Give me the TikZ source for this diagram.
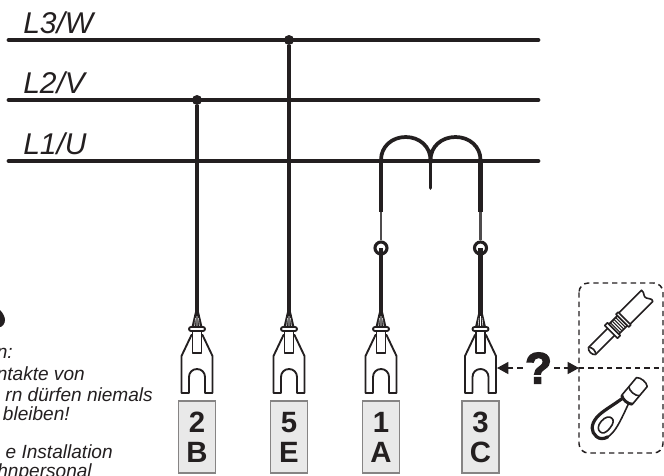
\documentclass[tikz,border=0pt]{standalone}
\usepackage{fontspec}
\setmainfont{Liberation Sans}
\newfontfamily\qfont[FakeBold=3]{Liberation Sans Bold}
\usetikzlibrary{arrows.meta}
\definecolor{ink}{HTML}{231F20}
\tikzset{
  x=0.75pt,y=-0.75pt,
  busline/.style={draw=ink,line width=3.6pt,line cap=round},
  thickwire/.style={draw=ink,line width=3.4pt},
  thinwire/.style={draw=ink!80,line width=1.6pt},
  coilwire/.style={draw=ink,line width=2.8pt,line cap=round},
  joint/.style={circle,fill=ink,inner sep=0pt,minimum size=7.5pt},
  eyelet/.style={circle,draw=ink,fill=white,line width=2.3pt,inner sep=0pt,minimum size=9pt},
  phase/.style={font=\itshape\fontsize{22.5}{22.5}\selectfont,text=ink,anchor=base west,inner sep=0pt},
  note/.style={font=\itshape\fontsize{14.3}{15}\selectfont,text=ink,anchor=base east,inner sep=0pt},
  termbox/.style={draw=ink!55,fill=ink!10,line width=1.1pt,minimum width=27.5pt,minimum height=54pt,inner sep=0pt,
    align=center,font=\bfseries\fontsize{22}{22.5}\selectfont,text=ink},
  forkline/.style={draw=ink,line width=1.4pt,line join=round},
  dashedge/.style={draw=ink,line width=1.1pt,dash pattern=on 4pt off 3pt},
  dasharrow/.style={dashedge,-{Triangle[length=8.5pt,width=9pt,fill=ink]}},
  lugline/.style={draw=ink,line width=1.2pt,line join=round,fill=white},
  fork/.pic={
    \fill[ink] (-2,312) -- (-5.5,327) -- (5.5,327) -- (2,312) -- cycle;
    \draw[white,line width=.4pt] (-1.5,318)--(-2.5,327) (0,316)--(0,327) (1.5,318)--(2.5,327);
    \draw[forkline,fill=white] (-15.5,393) -- (-15.5,356) -- (-5.5,335) -- (5.5,335) -- (15.5,356) -- (15.5,393)
       -- (8,393) -- (8,377) .. controls (8,372.5) and (4.5,369) .. (0,369) .. controls (-4.5,369) and (-8,372.5) .. (-8,377)
       -- (-8,393) -- cycle;
    \draw[forkline,fill=white] (-4.5,330) -- (-4.5,353) -- (4.5,353) -- (4.5,330);
    \draw[forkline,fill=white,rounded corners=1.5pt] (-8,327) rectangle (8,331);
  }
}
\begin{document}
\begin{tikzpicture}
\useasboundingbox (0,0) rectangle (664,475);
% bus bars
\coordinate (w0) at (9,40);  \coordinate (w1) at (538,40);
\coordinate (v0) at (9,100); \coordinate (v1) at (538,100);
\coordinate (u0) at (9,161); \coordinate (u1) at (538,161);
\node[phase] (lw) at (23,33) {L3/W};
\node[phase] (lv) at (23,93) {L2/V};
\node[phase] (lu) at (23,154) {L1/U};
\draw[busline] (w0) -- (w1);
\draw[busline] (v0) -- (v1);
\draw[busline] (u0) -- (u1);
% terminals
\node[termbox] (t2) at (197,437) {2\\B};
\node[termbox] (t5) at (289,437) {5\\E};
\node[termbox] (t1) at (381,437) {1\\A};
\node[termbox] (t3) at (480.5,437) {3\\C};
% forks
\pic at (197,0) {fork};
\pic at (289,0) {fork};
\pic at (381,0) {fork};
\pic at (480.5,0) {fork};
\coordinate (f2) at (197,316);
\coordinate (f5) at (289,316);
\coordinate (f1) at (381,316);
\coordinate (f3) at (480.5,316);
% wires to the bars
\node[joint] (j2) at (197,100) {};
\node[joint] (j5) at (289,40) {};
\draw[thickwire] (j2) -- (f2);
\draw[thickwire] (j5) -- (f5);
% transformer coil
\coordinate (c1) at (381,160);
\coordinate (cm) at (430.5,160);
\coordinate (c3) at (480.5,160);
\coordinate (cs) at (430.5,188);
\draw[coilwire] (c1) .. controls (381,146.5) and (392,137) .. (405.7,137)
   .. controls (419.4,137) and (430.5,146.5) .. (cm)
   .. controls (430.5,146.5) and (441.6,137) .. (455.5,137)
   .. controls (469.4,137) and (480.5,146.5) .. (c3);
\draw[coilwire,line cap=round] (cm) -- (cs);
\coordinate (k1) at (381,212);
\coordinate (k3) at (480.5,212);
\node[eyelet] (e1) at (381,248) {};
\node[eyelet] (e3) at (480.5,248) {};
\draw[thickwire] (c1) -- (k1);
\draw[thickwire] (c3) -- (k3);
\draw[thinwire] (k1) -- (e1.north);
\draw[thinwire] (k3) -- (e3.north);
\draw[thickwire] (e1.center) -- (f1);
\draw[thickwire] (e3.center) -- (f3);
% question mark and connector
\node[inner sep=0pt,font=\qfont\fontsize{33}{33}\selectfont,text=ink] (q) at (538.5,368) {?};
\coordinate (forkside) at (497,368);
\coordinate (boxside) at (579,368);
\coordinate (boxright) at (663,368);
\draw[dasharrow] (q.west) ++(-2,0) -- (forkside);
\draw[dasharrow] (q.east) ++(2,0) -- (boxside);
\draw[dashedge,rounded corners=7pt] (579,283) rectangle (663,453);
\draw[dashedge] (boxside) -- (boxright);
% ferrule
\begin{scope}[shift={(592,351)},x={(.53pt,.53pt)},y={(.53pt,-.53pt)}]
  \draw[lugline] (45,-8) -- (78,-8) .. controls (79,-4) and (74,-2) .. (76,1) .. controls (77,4) and (80,5) .. (78,8) -- (45,8) -- cycle;
  \draw[lugline] (0,-5) -- (28,-5) -- (28,5) -- (0,5) .. controls (-3,3) and (-3,-3) .. (0,-5) -- cycle;
  \draw[lugline] (0,-5) .. controls (3,-3) and (3,3) .. (0,5);
  \draw[lugline] (27,-9) -- (31,-9) -- (31,9) -- (27,9) -- cycle;
  \draw[lugline] (31,-7) -- (43,-7) -- (43,7) -- (31,7) -- cycle;
  \draw[draw=ink,line width=.8pt] (33,-7)--(33,7) (35.5,-7)--(35.5,7) (38,-7)--(38,7) (40.5,-7)--(40.5,7);
  \draw[lugline] (43,-9) -- (46,-9) -- (46,9) -- (43,9) -- cycle;
\end{scope}
% ring lug
\begin{scope}[shift={(606,425)},x={(.48pt,.575pt)},y={(.575pt,-.48pt)}]
  \draw[lugline] (33,-4) .. controls (20,-7) and (8,-12) .. (0,-12) .. controls (-10,-12) and (-15,-7) .. (-15,0)
     .. controls (-15,7) and (-10,10) .. (0,10) .. controls (8,10) and (22,6) .. (33,3) -- cycle;
  \draw[draw=ink,line width=2.4pt,line cap=round] (33,-4) .. controls (20,-7) and (8,-12) .. (0,-12) .. controls (-10,-12) and (-15,-7) .. (-15,0)
     .. controls (-15,4) and (-13,7) .. (-8,9);
  \draw[lugline] (0,-6) .. controls (-7,-6) and (-9,-3) .. (-9,0) .. controls (-9,3) and (-7,5) .. (0,5)
     .. controls (6,5) and (9,3) .. (9,0) .. controls (9,-3) and (6,-6) .. (0,-6) -- cycle;
  \draw[lugline] (33,-7) -- (56,-7) .. controls (59,-4) and (59,4) .. (56,7) -- (33,7) .. controls (30,4) and (30,-4) .. (33,-7) -- cycle;
  \draw[draw=ink,line width=1.2pt] (44,-7) .. controls (41,-4) and (41,4) .. (44,7);
  \draw[draw=ink,line width=2.2pt] (33,-7) .. controls (30,-4) and (30,4) .. (33,7);
\end{scope}
% warning text, cut by the left margin
\fill[ink] (0,310) .. controls (3,313) and (5,317) .. (5,320) .. controls (5,324) and (2,327) .. (0,327) -- cycle;
\node[note] (n1) at (13,358) {n:};
\node[note] (n2) at (85,380) {ntakte von};
\node[note] (n3) at (153,401) {rn dürfen niemals};
\node[note] (n4) at (70,420) {bleiben!};
\node[note] (n5) at (113,458) {e Installation};
\node[note] (n6) at (92,477) {chnpersonal};
\end{tikzpicture}
\end{document}
